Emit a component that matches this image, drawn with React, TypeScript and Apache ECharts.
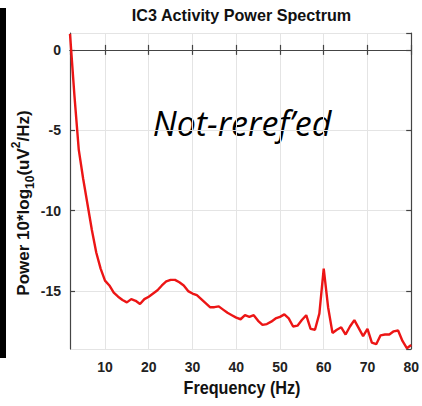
import React, { useEffect, useRef } from "react";
import * as echarts from "echarts";

const freqs = [2,3,4,5,6,7,8,9,10,11,12,13,14,15,16,17,18,19,20,21,22,23,24,25,26,27,28,29,30,31,32,33,34,35,36,37,38,39,40,41,42,43,44,45,46,47,48,49,50,51,52,53,54,55,56,57,58,59,60,61,62,63,64,65,66,67,68,69,70,71,72,73,74,75,76,77,78,79,80];
const power = [1.0,-2.8,-6.2,-8.0,-9.6,-11.2,-12.6,-13.6,-14.35,-14.65,-15.1,-15.35,-15.55,-15.7,-15.5,-15.6,-15.8,-15.5,-15.35,-15.15,-14.95,-14.65,-14.4,-14.3,-14.3,-14.45,-14.65,-15.0,-15.15,-15.25,-15.5,-15.75,-16.0,-16.0,-15.95,-16.15,-16.35,-16.5,-16.65,-16.75,-16.5,-16.6,-16.5,-16.85,-17.1,-17.05,-16.9,-16.7,-16.6,-16.45,-16.7,-17.2,-17.15,-16.8,-16.5,-17.35,-17.4,-16.4,-13.6,-16.0,-17.6,-17.4,-17.25,-17.7,-17.2,-16.8,-17.3,-17.8,-17.35,-18.2,-18.3,-17.75,-17.7,-17.7,-17.5,-17.45,-18.1,-18.55,-18.35];

const titleText = "IC3 Activity Power Spectrum";
const xAxisTitle = "Frequency (Hz)";
const annotation = "Not-reref\u2019ed";

const NARROW = '"Liberation Sans Narrow", "Liberation Sans", Arial, sans-serif';

export default function App() {
  const ref = useRef<HTMLDivElement>(null);
  useEffect(() => {
    if (!ref.current) return;
    const chart = echarts.init(ref.current, null, { renderer: "svg" });
    const axisLineStyle = { color: "#444", width: 1.2 };
    const labelStyle = { color: "#222", fontFamily: NARROW, fontWeight: "bold" as const, fontSize: 14 };
    chart.setOption({
      animation: false,
      backgroundColor: "#fff",
      grid: { left: 70, right: 9, top: 33, bottom: 57 },
      xAxis: [
        {
          type: "value",
          min: 2,
          max: 80,
          minInterval: 10,
          maxInterval: 10,
          axisLine: { show: true, lineStyle: axisLineStyle },
          axisTick: { show: true, inside: true, length: 5, lineStyle: axisLineStyle },
          axisLabel: { ...labelStyle, margin: 11, showMinLabel: false },
          splitLine: { show: true, lineStyle: { color: "#e4e4e4", width: 1 } },
        },
        {
          type: "value",
          position: "top",
          min: 2,
          max: 80,
          minInterval: 10,
          maxInterval: 10,
          axisLine: { show: true, lineStyle: axisLineStyle },
          axisTick: { show: true, inside: true, length: 5, lineStyle: axisLineStyle },
          axisLabel: { show: false },
          splitLine: { show: false },
        },
      ],
      yAxis: [
        {
          type: "value",
          min: -18.6,
          max: 1.05,
          minInterval: 5,
          maxInterval: 5,
          axisLine: { show: true, lineStyle: axisLineStyle },
          axisTick: { show: true, inside: true, length: 5, lineStyle: axisLineStyle },
          axisLabel: { ...labelStyle, margin: 9, showMinLabel: false, showMaxLabel: false },
          splitLine: { show: true, lineStyle: { color: "#e4e4e4", width: 1 } },
        },
        {
          type: "value",
          position: "right",
          min: -18.6,
          max: 1.05,
          minInterval: 5,
          maxInterval: 5,
          axisLine: { show: true, lineStyle: axisLineStyle },
          axisTick: { show: true, inside: true, length: 5, lineStyle: axisLineStyle },
          axisLabel: { show: false },
          splitLine: { show: false },
        },
      ],
      series: [
        {
          type: "line",
          data: freqs.map((f, i) => [f, power[i]]),
          showSymbol: false,
          symbol: "none",
          clip: true,
          lineStyle: { color: "#ec1515", width: 2.4 },
        },
      ],
      graphic: [
        { type: "rect", shape: { x: 0, y: 8, width: 6, height: 350 }, style: { fill: "#000" } },
        {
          type: "text",
          x: 241.5,
          y: 15,
          scaleX: 0.95,
          style: { text: titleText, textAlign: "center", textVerticalAlign: "middle", font: `bold 17px ${NARROW}`, fill: "#111" },
        },
        {
          type: "text",
          x: 242,
          y: 388,
          scaleX: 0.9,
          style: { text: xAxisTitle, textAlign: "center", textVerticalAlign: "middle", font: `bold 18px ${NARROW}`, fill: "#111" },
        },
        {
          type: "text",
          x: 242,
          y: 123,
          style: { text: annotation, textAlign: "center", textVerticalAlign: "middle", font: `italic 34px "Open Sans", sans-serif`, fill: "#000" },
        },
        {
          type: "text",
          x: 23,
          y: 203,
          rotation: Math.PI / 2,
          style: {
            text: "{a|Power 10*log}{sub|10}{a|(uV}{sup|2}{a|/Hz)}",
            align: "center",
            verticalAlign: "middle",
            rich: {
              a: { font: `bold 17px ${NARROW}`, fill: "#111", lineHeight: 26, verticalAlign: "middle" },
              sub: { font: `bold 12px ${NARROW}`, fill: "#111", lineHeight: 12, verticalAlign: "bottom" },
              sup: { font: `bold 12px ${NARROW}`, fill: "#111", lineHeight: 12, verticalAlign: "top" },
            },
          },
        },
      ],
    });
    return () => chart.dispose();
  }, []);
  return <div ref={ref} style={{ position: "absolute", left: 0, top: 0, width: 422, height: 406 }} />;
}
